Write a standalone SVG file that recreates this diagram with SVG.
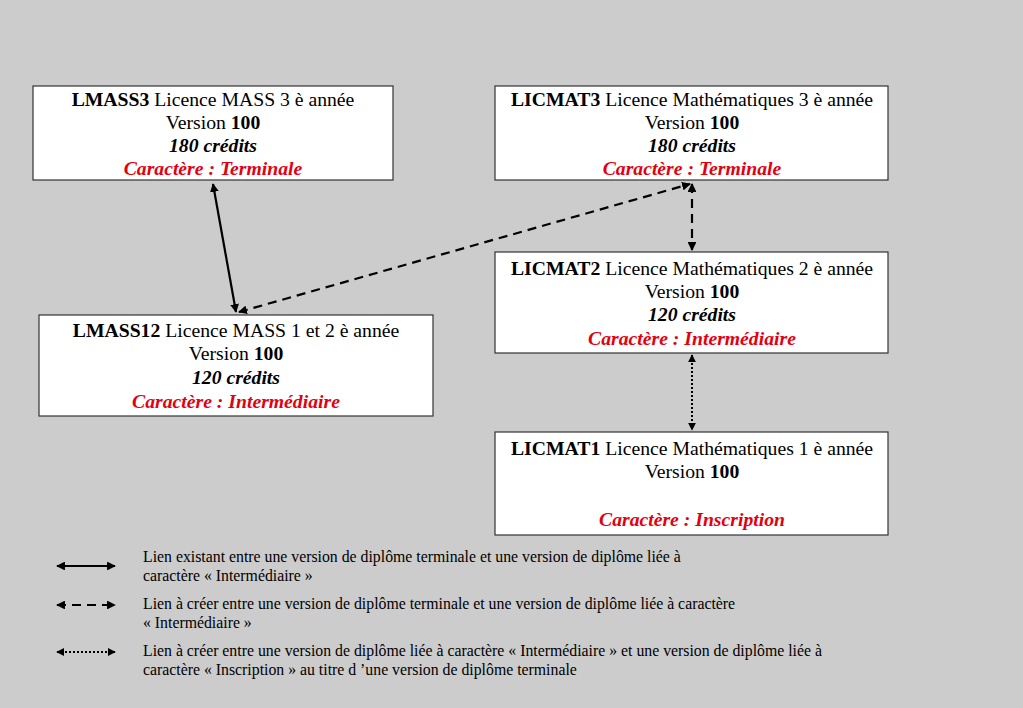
<svg xmlns="http://www.w3.org/2000/svg" width="1023" height="708" viewBox="0 0 1023 708">
<defs>
<style>
.box{fill:#ffffff;stroke:#333333;stroke-width:1.2}
.t{font-family:'Liberation Serif','DejaVu Serif','Times New Roman',serif;font-size:19.7px;fill:#000;text-anchor:middle}
.b{font-weight:bold}
.i{font-style:italic;font-weight:bold}
.r{fill:#e3000f;font-style:italic;font-weight:bold}
.lg{font-family:'Liberation Serif','DejaVu Serif','Times New Roman',serif;font-size:15.8px;fill:#000}
.c{fill:none;stroke:#000;stroke-width:2.2;marker-start:url(#ah);marker-end:url(#ah)}
.dash{stroke-dasharray:9 6}
.dot{stroke-dasharray:2 2;stroke-width:2}
</style>
<marker id="ah" viewBox="0 0 10 10" refX="9" refY="5" markerWidth="4" markerHeight="4" orient="auto-start-reverse" markerUnits="strokeWidth">
<path d="M0,0 L10,5 L0,10 z" fill="#000"/>
</marker>
</defs>
<rect x="0" y="0" width="1023" height="708" fill="#cccccc"/>

<g id="connectors">
<line class="c" x1="213" y1="184" x2="236" y2="312"/>
<line class="c dash" x1="239" y1="312" x2="690" y2="184"/>
<line class="c dash" x1="692" y1="184" x2="692" y2="250"/>
<line class="c dot" x1="692" y1="355" x2="692" y2="430"/>
</g>

<g id="LMASS3">
<rect class="box" x="33" y="86" width="360" height="94"/>
<text class="t" x="213" y="106"><tspan class="b">LMASS3</tspan> Licence MASS 3 è année</text>
<text class="t" x="213" y="129">Version <tspan class="b">100</tspan></text>
<text class="t i" x="213" y="152">180 crédits</text>
<text class="t r" x="213" y="175">Caractère : Terminale</text>
</g>

<g id="LICMAT3">
<rect class="box" x="495" y="86" width="393" height="94"/>
<text class="t" x="692" y="106"><tspan class="b">LICMAT3</tspan> Licence Mathématiques 3 è année</text>
<text class="t" x="692" y="129">Version <tspan class="b">100</tspan></text>
<text class="t i" x="692" y="152">180 crédits</text>
<text class="t r" x="692" y="175">Caractère : Terminale</text>
</g>

<g id="LICMAT2">
<rect class="box" x="495" y="252" width="393" height="101"/>
<text class="t" x="692" y="275"><tspan class="b">LICMAT2</tspan> Licence Mathématiques 2 è année</text>
<text class="t" x="692" y="298">Version <tspan class="b">100</tspan></text>
<text class="t i" x="692" y="321">120 crédits</text>
<text class="t r" x="692" y="345">Caractère : Intermédiaire</text>
</g>

<g id="LMASS12">
<rect class="box" x="39" y="315" width="394" height="101"/>
<text class="t" x="236" y="337"><tspan class="b">LMASS12</tspan> Licence MASS 1 et 2 è année</text>
<text class="t" x="236" y="360">Version <tspan class="b">100</tspan></text>
<text class="t i" x="236" y="384">120 crédits</text>
<text class="t r" x="236" y="408">Caractère : Intermédiaire</text>
</g>

<g id="LICMAT1">
<rect class="box" x="495" y="432" width="393" height="103"/>
<text class="t" x="692" y="455"><tspan class="b">LICMAT1</tspan> Licence Mathématiques 1 è année</text>
<text class="t" x="692" y="478">Version <tspan class="b">100</tspan></text>
<text class="t r" x="692" y="526">Caractère : Inscription</text>
</g>

<g id="legend">
<line class="c" x1="57" y1="566" x2="115" y2="566"/>
<line class="c dash" x1="57" y1="605" x2="115" y2="605"/>
<line class="c dot" x1="57" y1="652" x2="115" y2="652"/>
<text class="lg" x="143" y="562">Lien existant entre une version de diplôme terminale et une version de diplôme liée à</text>
<text class="lg" x="143" y="581">caractère « Intermédiaire »</text>
<text class="lg" x="143" y="609">Lien à créer entre une version de diplôme terminale et une version de diplôme liée à caractère</text>
<text class="lg" x="143" y="628">« Intermédiaire »</text>
<text class="lg" x="143" y="656">Lien à créer entre une version de diplôme liée à caractère « Intermédiaire » et une version de diplôme liée à</text>
<text class="lg" x="143" y="675">caractère « Inscription » au titre d ’une version de diplôme terminale</text>
</g>
</svg>
